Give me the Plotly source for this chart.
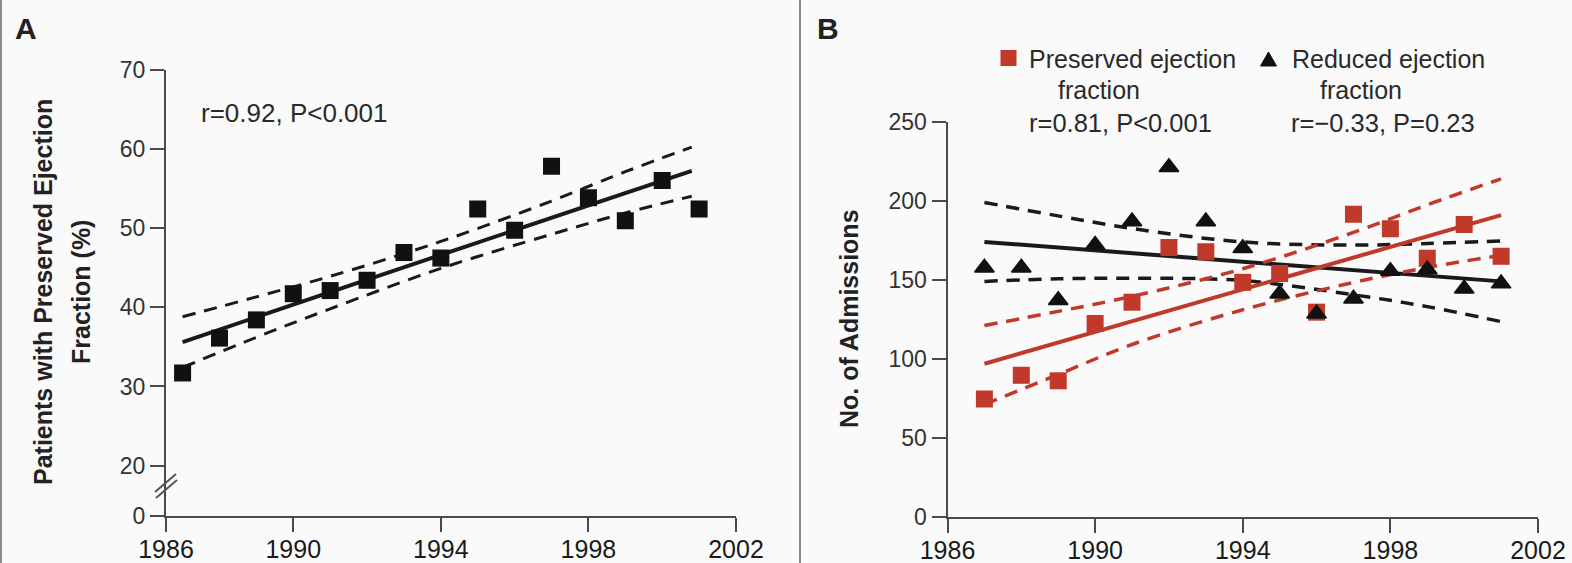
import plotly.graph_objects as go

W, H = 1572, 563

# ---------------- data ----------------
years = [1987, 1988, 1989, 1990, 1991, 1992, 1993, 1994, 1995, 1996, 1997, 1998, 1999, 2000, 2001]

# Panel A: % of patients with preserved EF
pct_preserved = [31.7, 36.1, 38.4, 41.7, 42.1, 43.4, 46.9, 46.2, 52.4, 49.7, 57.8, 53.8, 50.9, 56.0, 52.4]
fitA_x = [1987, 1989, 1991, 1994, 1997, 1999, 2000.8]
fitA_mid = [35.6, 38.7, 41.9, 46.6, 51.3, 54.5, 57.2]
fitA_up = [38.8, 41.3, 43.9, 48.3, 53.4, 57.1, 60.2]
fitA_lo = [32.4, 36.2, 39.8, 44.9, 49.2, 51.9, 54.0]

# Panel B: number of admissions
adm_preserved = [74.5, 89.5, 86.0, 122.3, 135.8, 170.4, 167.7, 148.4, 154.0, 129.5, 191.5, 182.4, 163.6, 185.0, 164.9]
adm_reduced = [157.6, 157.6, 137.0, 172.0, 187.0, 221.3, 187.0, 170.0, 141.2, 128.5, 138.0, 155.5, 156.5, 144.4, 147.6]
fitB_x = [1987, 1989, 1991, 1994, 1997, 1999, 2001]
red_mid = [96.8, 110.3, 123.8, 144.0, 164.3, 177.8, 191.0]
red_up = [121.0, 130.0, 139.5, 157.0, 180.0, 197.5, 214.0]
red_lo = [71.0, 90.0, 109.0, 131.0, 148.3, 157.8, 165.5]
blk_mid = [174.0, 170.4, 166.9, 161.5, 156.1, 152.6, 149.0]
blk_up = [199.0, 190.5, 182.5, 174.0, 172.0, 173.0, 174.6]
blk_lo = [149.0, 150.6, 151.0, 149.5, 140.5, 133.0, 123.5]

x_ticktext = ["1986", "1990", "1994", "1998", "2002"]
yA_ticktext = ["0", "20", "30", "40", "50", "60", "70"]

# ---------------- style ----------------
FONT = "Liberation Sans, Arial, sans-serif"
BG = "#fafafa"
AX = "#4a4a4a"
RED = "#c0392b"
BLK = "#111111"


def px(x):
    return x / W


def py(y):
    return 1 - y / H


fig = go.Figure()

# ---- Panel A ----
fig.add_trace(go.Scatter(x=fitA_x, y=fitA_up, mode="lines", line=dict(color="#1a1a1a", width=3, dash="13px,9px", shape="spline"), xaxis="x", yaxis="y"))
fig.add_trace(go.Scatter(x=fitA_x, y=fitA_lo, mode="lines", line=dict(color="#1a1a1a", width=3, dash="13px,9px", shape="spline"), xaxis="x", yaxis="y"))
fig.add_trace(go.Scatter(x=fitA_x, y=fitA_mid, mode="lines", line=dict(color="#1a1a1a", width=4), xaxis="x", yaxis="y"))
fig.add_trace(go.Scatter(x=years, y=pct_preserved, mode="markers", marker=dict(symbol="square", size=17, color=BLK), xaxis="x", yaxis="y"))

# ---- Panel B ----
for arr in (blk_up, blk_lo):
    fig.add_trace(go.Scatter(x=fitB_x, y=arr, mode="lines", line=dict(color="#1a1a1a", width=3.5, dash="13px,9px", shape="spline"), xaxis="x2", yaxis="y2"))
fig.add_trace(go.Scatter(x=fitB_x, y=blk_mid, mode="lines", line=dict(color="#1a1a1a", width=4), xaxis="x2", yaxis="y2"))
for arr in (red_up, red_lo):
    fig.add_trace(go.Scatter(x=fitB_x, y=arr, mode="lines", line=dict(color=RED, width=3.5, dash="13px,9px", shape="spline"), xaxis="x2", yaxis="y2"))
fig.add_trace(go.Scatter(x=fitB_x, y=red_mid, mode="lines", line=dict(color=RED, width=4), xaxis="x2", yaxis="y2"))
fig.add_trace(go.Scatter(x=years, y=adm_preserved, mode="markers", marker=dict(symbol="square", size=17, color=RED), xaxis="x2", yaxis="y2"))
fig.add_trace(go.Scatter(x=years, y=adm_reduced, mode="markers", marker=dict(symbol="triangle-up", size=17, color=BLK, line=dict(color=BLK, width=1.5)), xaxis="x2", yaxis="y2"))

axis_common = dict(showline=True, linecolor=AX, linewidth=2, ticks="outside", ticklen=14, tickwidth=2,
                   tickcolor=AX, showgrid=False, zeroline=False, fixedrange=True, automargin=False)

fig.update_layout(
    width=W, height=H,
    margin=dict(l=0, r=0, t=0, b=0, pad=0, autoexpand=False),
    paper_bgcolor=BG, plot_bgcolor=BG,
    showlegend=False, hovermode=False,
    font=dict(family=FONT, color="#2a2a2a"),
    xaxis=dict(domain=[px(166), px(736)], range=[1986.55, 2002], tickmode="array",
               tickvals=[1986.55, 1990, 1994, 1998, 2002], ticktext=x_ticktext, ticklabelstandoff=-4,
               tickfont=dict(size=25, color="#1a1a1a"), anchor="y", **axis_common),
    yaxis=dict(domain=[py(516), py(69.5)], range=[13.65, 70], tickmode="array",
               tickvals=[13.65, 20, 30, 40, 50, 60, 70], ticktext=yA_ticktext,
               tickfont=dict(size=23, color="#333333"), anchor="x", **axis_common),
    xaxis2=dict(domain=[px(947.5), px(1538)], range=[1986, 2002], tickmode="array",
                tickvals=[1986, 1990, 1994, 1998, 2002], ticktext=x_ticktext, ticklabelstandoff=-4,
                tickfont=dict(size=25, color="#1a1a1a"), anchor="y2", **axis_common),
    yaxis2=dict(domain=[py(516.5), py(122)], range=[0, 250], tickmode="linear", tick0=0, dtick=50,
                tickfont=dict(size=23, color="#333333"), anchor="x2", **axis_common),
)

ann = []


def add_text(text, x, y, size, xanchor="center", angle=0, color="#2a2a2a"):
    ann.append(dict(text=text, x=px(x), y=py(y), xref="paper", yref="paper", showarrow=False,
                    xanchor=xanchor, yanchor="middle", textangle=angle,
                    font=dict(size=size, color=color, family=FONT)))


add_text("<b>A</b>", 26, 28, 30, color="#222")
add_text("<b>B</b>", 827.5, 28, 30, color="#222")
add_text("<b>Patients with Preserved Ejection</b>", 43, 292, 25, angle=-90, color="#222")
add_text("<b>Fraction (%)</b>", 81, 292, 25, angle=-90, color="#222")
add_text("<b>No. of Admissions</b>", 849, 319, 25, angle=-90, color="#222")
add_text("r=0.92, P&lt;0.001", 199, 113, 26, xanchor="left")

add_text("Preserved ejection", 1027, 59, 25, xanchor="left")
add_text("fraction", 1099, 90, 25)
add_text("r=0.81, P&lt;0.001", 1027, 123, 25.5, xanchor="left")
add_text("Reduced ejection", 1290, 59, 25, xanchor="left")
add_text("fraction", 1360.5, 90, 25)
add_text("r=\u22120.33, P=0.23", 1289, 123, 25.5, xanchor="left")

fig.update_layout(annotations=ann)

shapes = [
    # panel frame lines
    dict(type="line", xref="paper", yref="paper", x0=px(1), x1=px(1), y0=0, y1=1, line=dict(color="#8c8c8c", width=2)),
    dict(type="line", xref="paper", yref="paper", x0=px(800), x1=px(800), y0=0, y1=1, line=dict(color="#8c8c8c", width=2)),
    # axis break marks (panel A)
    dict(type="line", xref="paper", yref="paper", x0=px(155), y0=py(492), x1=px(176), y1=py(474), line=dict(color="#555", width=2)),
    dict(type="line", xref="paper", yref="paper", x0=px(156), y0=py(498), x1=px(177), y1=py(480), line=dict(color="#555", width=2)),
    # legend glyphs (panel B)
    dict(type="rect", xref="paper", yref="paper", x0=px(1000.5), x1=px(1016.5), y0=py(66), y1=py(50), fillcolor=RED, line=dict(width=0)),
    dict(type="path", xref="paper", yref="paper",
         path=f"M {px(1260.5)} {py(66)} L {px(1276.5)} {py(66)} L {px(1268.5)} {py(52)} Z",
         fillcolor=BLK, line=dict(color=BLK, width=1)),
]
fig.update_layout(shapes=shapes)

fig.write_html(
    "out.html",
    config={"displayModeBar": False, "staticPlot": True},
    post_script="document.body.style.margin='0';document.body.style.padding='0';document.body.style.overflow='hidden';",
)
